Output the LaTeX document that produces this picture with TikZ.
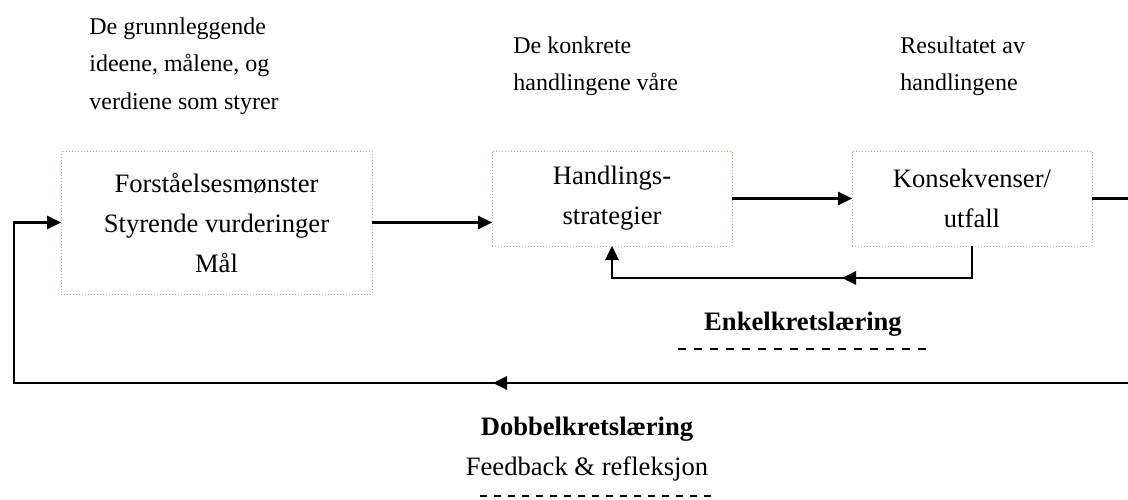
\documentclass[tikz,border=0pt]{standalone}
\usepackage{fontspec}
\setmainfont{Liberation Serif}
\usetikzlibrary{arrows.meta}
\definecolor{boxline}{RGB}{196,178,128}
\tikzset{
  box/.style={draw=boxline, line width=0.5pt, densely dotted, inner sep=0pt, outer sep=0pt,
    align=center, font=\fontsize{13.3}{20}\selectfont},
  conn/.style={line width=1.35pt, draw=black},
  tip/.style={-{Triangle[length=7pt,width=6.5pt]}},
  note/.style={anchor=north west, inner sep=0pt, align=left, font=\fontsize{12}{18.75}\selectfont},
  lbl/.style={inner sep=0pt, align=center, font=\fontsize{13.3}{20}\selectfont},
  dashline/.style={line width=1pt, dash pattern=on 4pt off 4pt},
  dashlineb/.style={line width=1pt, dash pattern=on 3.5pt off 3.5pt}
}
\begin{document}
\begin{tikzpicture}[x=0.5pt,y=-0.5pt]
\clip (0,0) rectangle (1128,499);
\fill[white] (0,0) rectangle (1128,499);

% boxes
\node[box, minimum width=155.5pt, minimum height=71.5pt] (b1) at (216.5,222.5)
  {Forståelsesmønster\\Styrende vurderinger\\Mål};
\node[box, minimum width=120pt, minimum height=47.5pt] (b2) at (612,198.5)
  {Handlings-\\strategier};
\node[box, minimum width=120pt, minimum height=47.5pt] (b3) at (972,198.5)
  {Konsekvenser/\\utfall};

% notes
\node[note] (n1) at (89,17) {De grunnleggende\\ideene, målene, og\\verdiene som styrer};
\node[note] (n2) at (513,36) {De konkrete\\handlingene våre};
\node[note] (n3) at (900,36) {Resultatet av\\handlingene};

% labels
\node[lbl, anchor=base] (enkel) at (803,330) {\bfseries Enkelkretslæring};
\node[lbl, anchor=north] (dobbel) at (587,417) {\textbf{Dobbelkretslæring}\\Feedback \& refleksjon};

% dashed underlines
\coordinate (e1) at (678,349);
\coordinate (e2) at (930,349);
\draw[dashline] (e1) -- (e2);
\coordinate (d1) at (480,496);
\coordinate (d2) at (716,496);
\draw[dashlineb] (d1) -- (d2);

% forward connectors
\draw[conn,tip] (b1.east) -- (b1.east -| b2.west);
\draw[conn,tip] (b2.east) -- (b3.west);

% single loop
\coordinate (s1) at (612,278);
\coordinate (m1) at (842,278);
\draw[conn,tip] (b3.south) |- (s1) -- (b2.south);
\draw[conn,tip] (b3.south) |- (m1);

% double loop
\coordinate (r1) at (1140,198.5);
\coordinate (r2) at (1140,383);
\coordinate (l1) at (14,383);
\coordinate (m2) at (493,383);
\draw[conn,tip] (b3.east) -- (r1) -- (r2) -- (l1) |- (b1.west);
\draw[conn,tip] (r2) -- (m2);
\end{tikzpicture}
\end{document}
